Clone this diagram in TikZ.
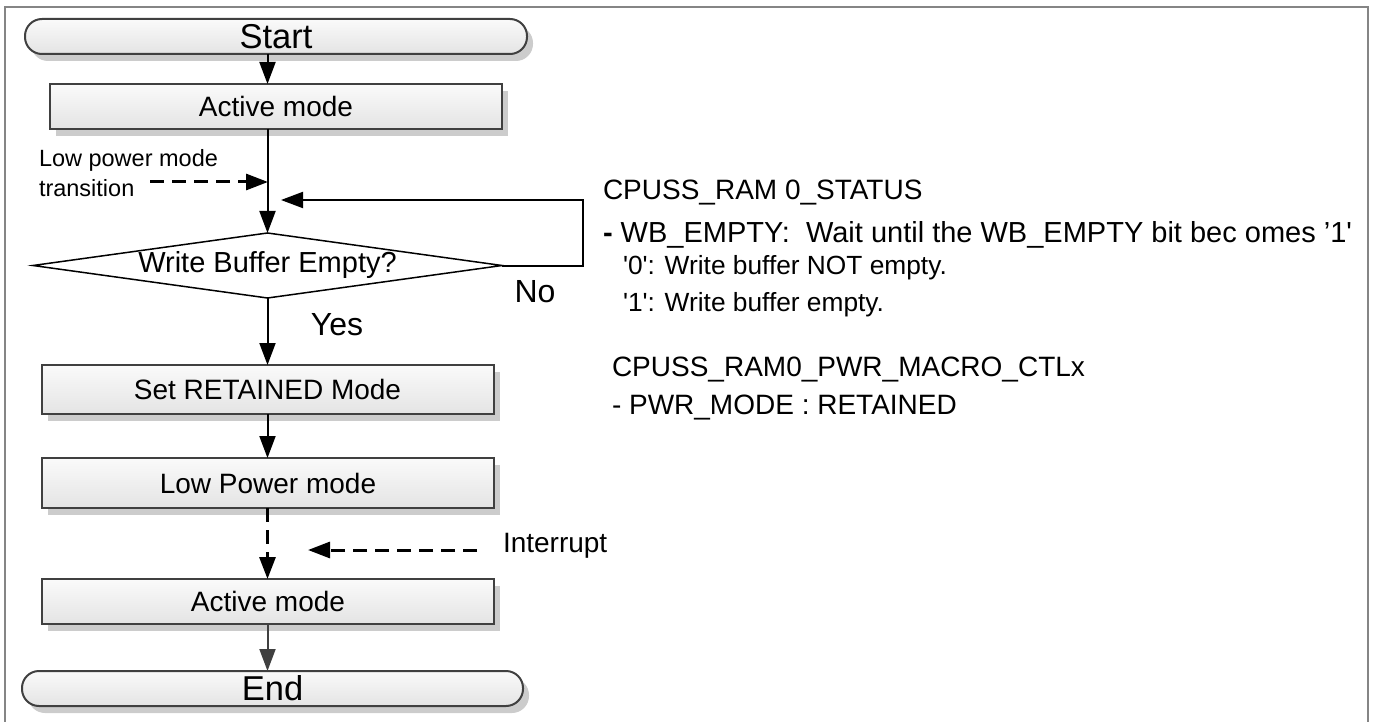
\documentclass[tikz,border=0pt]{standalone}
\usepackage{fontspec}
\setmainfont{Liberation Sans}
\usetikzlibrary{arrows.meta,shapes.geometric,shadows}

\definecolor{boxline}{HTML}{404040}
\definecolor{boxtop}{HTML}{FAFAFA}
\definecolor{boxbot}{HTML}{E4E4E4}
\definecolor{framegray}{HTML}{858585}

\newcommand{\fs}[1]{\fontsize{#1}{#1}\selectfont}

\begin{document}
\begin{tikzpicture}[x=1pt,y=-1pt,
  every node/.style={inner sep=0pt,outer sep=0pt},
  boxshadow/.style={drop shadow={shadow xshift=6pt,shadow yshift=-7pt,fill=black!20,opacity=1}},
  procbox/.style={rectangle,draw=boxline,line width=2pt,top color=boxtop,bottom color=boxbot,
    minimum width=452pt,font=\fs{28},boxshadow},
  termbox/.style={rectangle,rounded corners=17pt,draw=boxline,line width=2pt,top color=boxtop,
    bottom color=boxbot,minimum height=35pt,font=\fs{34.5},boxshadow},
  decision/.style={diamond,draw=black,line width=1.5pt,aspect=7.2,minimum width=469pt,
    minimum height=65pt,font=\fs{29}},
  tip/.style={-{Triangle[length=22pt,width=16pt]}},
  flow/.style={draw=black,line width=2pt,tip},
  dflow/.style={draw=black,line width=3pt,dash pattern=on 14pt off 8pt,tip},
  note/.style={anchor=west,font=\fs{23.5}},
  reg/.style={anchor=west,font=\fs{28}}
]
\useasboundingbox (0,0) rectangle (1373,722);

% outer frame
\draw[framegray,line width=1.5pt] (5,722) -- (5,7) -- (1368,7) -- (1368,722);

% flow chart nodes
\node[termbox,minimum width=502pt] (S) at (276,36.5) {Start};
\node[procbox,minimum height=45pt] (A1) at (276,106.5) {Active mode};
\node[decision] (D) at (267.5,265.5) {Write Buffer Empty?};
\node[procbox,minimum height=49pt] (R) at (267.5,389.5) {Set RETAINED Mode};
\node[procbox,minimum height=50pt] (L) at (268,483) {Low Power mode};
\node[procbox,minimum height=45pt] (A2) at (268,601.5) {Active mode};
\node[termbox,minimum width=501pt] (E) at (272.5,688.5) {End};

% connectors along the main axis
\draw[flow] (S.south -| D.north) -- (A1.north -| D.north);
\draw[flow] (A1.south -| D.north) -- (D.north);
\draw[flow] (D.south) -- (R.north -| D.south);
\draw[flow] (R.south -| D.south) -- (L.north -| D.south);
\draw[dflow] (L.south -| D.south) -- (A2.north -| D.south);
\draw[draw=boxline,fill=boxline,line width=2pt,tip] (A2.south -| D.south) -- (E.north -| D.south);

% "No" branch loops back above the decision
\coordinate (loopend) at (281,200);
\draw[flow] (D.east) -- ++(81,0) |- (loopend);

% low power mode transition entry
\node[note] (lp1) at (39,160) {Low power mode};
\node[note] (lp2) at (39,188) {transition};
\coordinate (tstart) at (150,182);
\coordinate (tend) at (268,182);
\draw[dflow] (tstart) -- (tend);

% interrupt wake-up
\coordinate (istart) at (477,550);
\coordinate (iend) at (308,550);
\draw[dflow] (istart) -- (iend);
\node[anchor=west,font=\fs{28}] (intr) at (503,546) {Interrupt};

% branch labels
\node[font=\fs{32}] (yes) at (337,325) {Yes};
\node[font=\fs{32}] (no) at (535,292) {No};

% register notes
\node[reg] (r1) at (603,193) {CPUSS\_RAM 0\_STATUS};
\node[reg,font=\fs{29}] (r2) at (603,235) {\textbf{-} WB\_EMPTY:\ \ Wait until the WB\_EMPTY bit bec omes ’1\textquotesingle};
\node[reg,font=\fs{26.3}] (r3) at (623,268) {\textquotesingle0\textquotesingle: Write buffer NOT empty.};
\node[reg,font=\fs{26.3}] (r4) at (623,305) {\textquotesingle1\textquotesingle: Write buffer empty.};
\node[reg] (r5) at (612,370) {CPUSS\_RAM0\_PWR\_MACRO\_CTLx};
\node[reg] (r6) at (612,408) {- PWR\_MODE : RETAINED};
\end{tikzpicture}
\end{document}
